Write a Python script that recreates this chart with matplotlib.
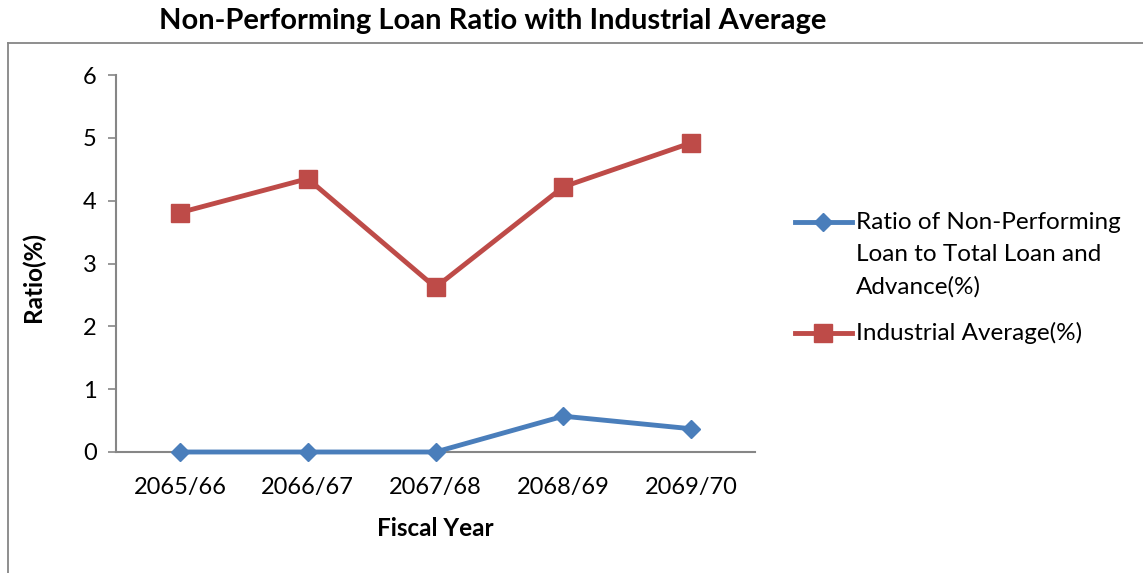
import matplotlib.pyplot as plt
from matplotlib.lines import Line2D

# --- Data ---
years = ['2065/66', '2066/67', '2067/68', '2068/69', '2069/70']
npl_ratio = [0.0, 0.0, 0.0, 0.57, 0.37]
industry_avg = [3.81, 4.35, 2.62, 4.22, 4.92]
npl_label = ['Ratio of Non-Performing', 'Loan to Total Loan and', 'Advance(%)']
avg_label = ['Industrial Average(%)']

BLUE = '#4A7EBB'
RED = '#BE4B48'
GREY = '#868686'
W, H = 1143, 573

plt.rcParams['font.family'] = ['Lato', 'DejaVu Sans']

fig = plt.figure(figsize=(W / 100, H / 100), dpi=100)
ax = fig.add_axes([116 / W, 1 - 452 / H, 639 / W, 377 / H])

x = range(len(years))
# lines go above the spines so the zero values stay visible on the axis
ax.plot(x, npl_ratio, color=BLUE, lw=3.5, marker='D', markersize=9,
        clip_on=False, zorder=4)
ax.plot(x, industry_avg, color=RED, lw=3.5, marker='s', markersize=13.5,
        clip_on=False, zorder=4)

ax.set_xlim(-0.5, len(years) - 0.5)
ax.set_ylim(0, 6)
ax.set_xticks(list(x))
ax.set_xticklabels(years)
ax.set_yticks(range(7))
ax.tick_params(axis='x', length=0, labelsize=17, pad=18)
ax.tick_params(axis='y', length=6, width=1.2, color=GREY, labelsize=17, pad=8)

for side in ['top', 'right']:
    ax.spines[side].set_visible(False)
for side in ['left', 'bottom']:
    ax.spines[side].set_color(GREY)
    ax.spines[side].set_linewidth(1.5)

ax.set_xlabel('Fiscal Year', fontsize=17.5, fontweight='bold', labelpad=14)
ax.set_ylabel('Ratio(%)', fontsize=17.5, fontweight='bold')
ax.yaxis.set_label_coords(-0.111, 0.465)

fig.text(493 / W, 1 - 21 / H, 'Non-Performing Loan Ratio with Industrial Average',
         ha='center', va='center', fontsize=21, fontweight='bold')

# frame around the chart area (top and left edges)
top = 1 - 43 / H
fig.add_artist(Line2D([8 / W, 1.0], [top, top], transform=fig.transFigure,
                      color=GREY, lw=1.3))
fig.add_artist(Line2D([8 / W, 8 / W], [0, top], transform=fig.transFigure,
                      color=GREY, lw=1.3))

# legend: handle sits level with the first text line
def legend_entry(y_px, color, marker, ms, lines):
    y = 1 - y_px / H
    fig.add_artist(Line2D([795 / W, 852 / W], [y, y], transform=fig.transFigure,
                          color=color, lw=3.5))
    fig.add_artist(Line2D([823 / W], [y], transform=fig.transFigure,
                          color=color, marker=marker, markersize=ms, lw=0))
    for i, line in enumerate(lines):
        fig.text(856 / W, 1 - (y_px + i * 32.5) / H, line, ha='left',
                 va='center', fontsize=17.5)

legend_entry(222, BLUE, 'D', 9, npl_label)
legend_entry(333, RED, 's', 13.5, avg_label)

fig.savefig('out.png', dpi=100)
